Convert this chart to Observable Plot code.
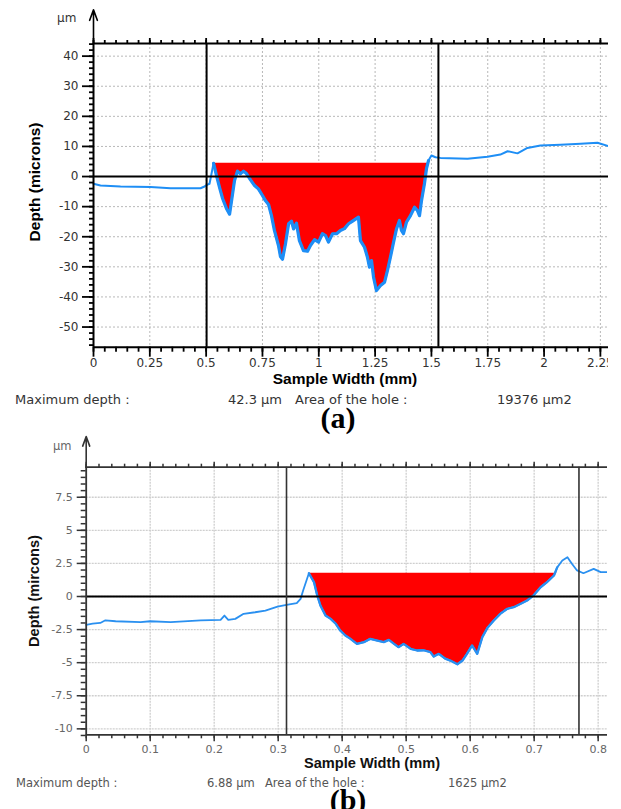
<!DOCTYPE html>
<html>
<head>
<meta charset="utf-8">
<script src="https://cdn.jsdelivr.net/npm/d3@7"></script>
<script src="https://cdn.jsdelivr.net/npm/@observablehq/plot@0.6"></script>
<style>
  body { margin: 0; background: #fff; }
  #page { position: relative; width: 621px; height: 809px; overflow: hidden; background: #fff; }
  .abs { position: absolute; white-space: nowrap; line-height: 1; }
</style>
</head>
<body>
<div id="page"></div>
<script>
// ---------- Panel (a) data ----------
const widthA = [0, 0.031, 0.120, 0.253, 0.342, 0.431, 0.475, 0.493, 0.506, 0.515, 0.524, 0.533, 0.546, 0.559, 0.573, 0.590, 0.604, 0.613, 0.626, 0.639, 0.652, 0.666, 0.679, 0.697, 0.715, 0.732, 0.750, 0.763, 0.777, 0.790, 0.803, 0.821, 0.830, 0.839, 0.852, 0.866, 0.879, 0.888, 0.901, 0.914, 0.932, 0.950, 0.963, 0.981, 0.999, 1.016, 1.030, 1.043, 1.061, 1.079, 1.096, 1.114, 1.132, 1.150, 1.176, 1.185, 1.203, 1.216, 1.225, 1.234, 1.243, 1.256, 1.274, 1.292, 1.305, 1.318, 1.332, 1.345, 1.358, 1.367, 1.376, 1.389, 1.407, 1.425, 1.438, 1.447, 1.456, 1.469, 1.478, 1.487, 1.500, 1.518, 1.540, 1.660, 1.749, 1.806, 1.838, 1.882, 1.926, 1.984, 2.073, 2.162, 2.237, 2.286];
const depthA = [-2.4, -3.0, -3.3, -3.5, -3.9, -3.9, -3.9, -3.3, -2.7, -2.4, 1.0, 4.4, 0.3, -3.5, -7.3, -10.6, -12.5, -8.0, -1.3, 1.8, 0.9, 1.8, 1.0, -1.1, -3.0, -4.1, -6.3, -8.0, -9.3, -13.0, -17.9, -22.9, -26.6, -27.5, -22.4, -15.7, -14.8, -17.4, -15.5, -21.3, -24.6, -24.8, -22.9, -21.0, -21.8, -19.0, -19.6, -21.8, -19.0, -19.0, -17.9, -17.3, -15.7, -14.8, -13.5, -21.3, -23.5, -26.8, -30.1, -27.9, -33.4, -37.9, -36.2, -35.1, -31.2, -26.8, -21.8, -17.4, -14.6, -17.9, -19.0, -15.2, -13.0, -10.2, -11.3, -13.0, -8.0, -2.4, 2.6, 5.3, 7.0, 6.4, 6.2, 5.9, 6.6, 7.3, 8.4, 7.7, 9.5, 10.3, 10.6, 10.9, 11.2, 10.1];
const xTicksA = [0, 0.25, 0.5, 0.75, 1, 1.25, 1.5, 1.75, 2, 2.25];
const yTicksA = [40, 30, 20, 10, 0, -10, -20, -30, -40, -50];
const cursorsA = [0.502, 1.531];
const holeRangeA = [0.533, 1.487];
const holeLevelA = 4.4;
const infoA = ["Maximum depth :", "42.3 µm", "Area of the hole :", "19376 µm2"];

// ---------- Panel (b) data ----------
const widthB = [0, 0.010, 0.022, 0.030, 0.046, 0.085, 0.100, 0.132, 0.179, 0.210, 0.216, 0.222, 0.233, 0.246, 0.264, 0.280, 0.299, 0.313, 0.329, 0.335, 0.339, 0.348, 0.356, 0.361, 0.366, 0.374, 0.382, 0.390, 0.397, 0.405, 0.413, 0.423, 0.434, 0.444, 0.455, 0.465, 0.473, 0.481, 0.488, 0.496, 0.507, 0.517, 0.527, 0.538, 0.543, 0.551, 0.561, 0.569, 0.580, 0.588, 0.595, 0.603, 0.611, 0.619, 0.627, 0.637, 0.647, 0.658, 0.668, 0.679, 0.689, 0.699, 0.710, 0.720, 0.731, 0.736, 0.744, 0.752, 0.759, 0.767, 0.777, 0.793, 0.804, 0.815];
const depthB = [-2.14, -2.05, -2.0, -1.8, -1.87, -1.94, -1.87, -1.94, -1.81, -1.76, -1.44, -1.76, -1.69, -1.31, -1.19, -1.06, -0.76, -0.63, -0.5, -0.18, 0.45, 1.76, 1.08, 0.08, -0.68, -1.44, -1.69, -2.06, -2.57, -2.95, -3.2, -3.58, -3.45, -3.2, -3.33, -3.45, -3.28, -3.58, -3.83, -3.58, -3.95, -4.08, -4.06, -4.21, -4.54, -4.33, -4.7, -4.84, -5.12, -4.84, -4.33, -3.7, -4.33, -3.07, -2.37, -1.81, -1.31, -0.93, -0.81, -0.55, -0.3, 0.08, 0.7, 1.08, 1.59, 2.2, 2.72, 2.97, 2.47, 1.97, 1.76, 2.09, 1.84, 1.84];
const xTicksB = [0, 0.1, 0.2, 0.3, 0.4, 0.5, 0.6, 0.7, 0.8];
const yTicksB = [7.5, 5, 2.5, 0, -2.5, -5, -7.5, -10];
const cursorsB = [0.313, 0.770];
const holeRangeB = [0.348, 0.736];
const holeLevelB = 1.76;
const infoB = ["Maximum depth :", "6.88 µm", "Area of the hole :", "1625 µm2"];

// ---------- drawing ----------
const page = document.getElementById("page");

function panel(c) {
  const data = c.widths.map((x, i) => ({x, y: c.depths[i]}));
  const hole = data.filter(d => d.x >= c.holeRange[0] && d.x <= c.holeRange[1]);
  const [y0, y1] = c.yDomain;
  const blank = () => "";
  const ax = c.axisColor;
  const svg = Plot.plot({
    width: c.width, height: c.height,
    marginLeft: c.ml, marginRight: 0, marginTop: c.mt, marginBottom: c.mb,
    x: {domain: c.xDomain, label: null},
    y: {domain: c.yDomain, label: null},
    style: {fontFamily: "'DejaVu Sans', sans-serif", background: "transparent"},
    marks: [
      Plot.gridX(c.xTicks.filter(d => d > 0), {stroke: c.gridColor, strokeOpacity: 1, strokeDasharray: c.dash, strokeWidth: c.gridWidth}),
      Plot.gridY(c.yTicks, {stroke: c.gridColor, strokeOpacity: 1, strokeDasharray: c.dash, strokeWidth: c.gridWidth}),
      Plot.areaY(hole, {x: "x", y1: d => Math.min(d.y, c.holeLevel), y2: () => c.holeLevel, fill: "#ff0000"}),
      Plot.line(data, {x: "x", y: "y", stroke: c.lineColor, strokeWidth: c.lw}),
      Plot.line(hole, {x: "x", y: "y", stroke: c.lineColor, strokeWidth: c.lwHole}),
      Plot.ruleY([0], {stroke: "#000", strokeWidth: 2}),
      Plot.ruleX(c.cursors, {stroke: ax, strokeWidth: c.cursorWidth}),
      Plot.ruleY([y1], {stroke: ax, strokeWidth: c.frameWidth}),
      Plot.ruleY([y0], {stroke: ax, strokeWidth: c.frameWidth}),
      Plot.ruleX([c.xDomain[0]], {stroke: ax, strokeWidth: c.frameWidth}),
      Plot.axisX(c.xMinor, {anchor: "top", tickSize: c.t.topMinor, tickFormat: blank, color: ax, strokeWidth: c.tickWidth}),
      Plot.axisX(c.xTicks, {anchor: "top", tickSize: c.t.topMajor, tickFormat: blank, color: ax, strokeWidth: c.tickWidth}),
      Plot.axisX(c.xMinor, {anchor: "bottom", tickSize: c.t.bottomMinor, tickFormat: blank, color: ax, strokeWidth: c.tickWidth}),
      Plot.axisX(c.xTicks, {anchor: "bottom", tickSize: c.t.bottomMajor, tickFormat: blank, color: ax, strokeWidth: c.tickWidth}),
      Plot.axisX(c.xTicks, {anchor: "bottom", tickSize: 0, tickPadding: c.t.xPad, tickFormat: d => String(d), color: c.labelColor, fontSize: c.fontSize}),
      Plot.axisY(c.yMinor, {anchor: "left", tickSize: c.t.leftMinor, tickFormat: blank, color: ax, strokeWidth: c.tickWidth}),
      Plot.axisY(c.yTicks, {anchor: "left", tickSize: c.t.leftMajor, tickFormat: blank, color: ax, strokeWidth: c.tickWidth}),
      Plot.axisY(c.yTicks, {anchor: "left", tickSize: 0, tickPadding: c.t.yPad, tickFormat: d => String(d), color: c.labelColor, fontSize: c.fontSize}),
      Plot.arrow([c.arrowRise], {x1: () => c.xDomain[0], x2: () => c.xDomain[0], y1: () => y1, y2: d => y1 + d, stroke: ax, strokeWidth: 1.6, headLength: c.headLength, headAngle: 40})
    ]
  });
  svg.style.position = "absolute";
  svg.style.left = "0px";
  svg.style.top = c.top + "px";
  page.appendChild(svg);
}

function addText(txt, css) {
  const d = document.createElement("div");
  d.className = "abs";
  d.textContent = txt;
  Object.assign(d.style, css);
  page.appendChild(d);
}

panel({
  widths: widthA, depths: depthA, xTicks: xTicksA, yTicks: yTicksA,
  xMinor: d3.range(0, 2.29, 0.05), yMinor: d3.range(-56, 45, 2),
  cursors: cursorsA, holeRange: holeRangeA, holeLevel: holeLevelA,
  xDomain: [0, 2.286], yDomain: [-56.7, 44.2],
  width: 608, height: 390, ml: 93, mt: 43, mb: 43.3, top: 0,
  gridColor: "#b8b8b8", dash: "2,2", gridWidth: 1,
  lineColor: "#1e8ef5", lw: 2, lwHole: 3.2,
  axisColor: "#000", cursorWidth: 2, frameWidth: 2, tickWidth: 1.8,
  labelColor: "#333", fontSize: 12,
  t: {topMinor: 4, topMajor: 6, bottomMinor: 5, bottomMajor: 10, leftMinor: 4, leftMajor: 11, xPad: 11, yPad: 15},
  arrowRise: 11.2, headLength: 16
});

panel({
  widths: widthB, depths: depthB, xTicks: xTicksB, yTicks: yTicksB,
  xMinor: d3.range(0, 0.815, 0.02), yMinor: d3.range(-10.5, 9.8, 0.5),
  cursors: cursorsB, holeRange: holeRangeB, holeLevel: holeLevelB,
  xDomain: [0, 0.8146], yDomain: [-10.45, 9.77],
  width: 607, height: 345, ml: 85.7, mt: 36.7, mb: 40.7, top: 430,
  gridColor: "#cfcfcf", dash: "2,1", gridWidth: 1.3,
  lineColor: "#2a90f0", lw: 1.8, lwHole: 2.3,
  axisColor: "#333", cursorWidth: 1.6, frameWidth: 1.8, tickWidth: 1.5,
  labelColor: "#666", fontSize: 11,
  t: {topMinor: 4, topMajor: 6, bottomMinor: 4, bottomMajor: 7, leftMinor: 5, leftMajor: 9, xPad: 10.5, yPad: 13.5},
  arrowRise: 2.32, headLength: 15
});

// Panel (a) texts
const fA = "13px 'DejaVu Sans', sans-serif";
addText("µm", {left: "57px", top: "11px", font: "12px 'DejaVu Sans', sans-serif", color: "#333"});
addText("Depth (microns)", {left: "35px", top: "182px", transform: "translate(-50%,-50%) rotate(-90deg)", font: "bold 15.5px 'Liberation Sans', sans-serif", color: "#000"});
addText("Sample Width (mm)", {left: "345px", top: "379px", transform: "translate(-50%,-50%)", font: "bold 15.5px 'Liberation Sans', sans-serif", color: "#000"});
addText(infoA[0], {left: "15px", top: "392px", font: fA, color: "#333"});
addText(infoA[1], {left: "228px", top: "392px", font: fA, color: "#333"});
addText(infoA[2], {left: "295px", top: "392px", font: fA, color: "#333"});
addText(infoA[3], {left: "497px", top: "392px", font: fA, color: "#333"});
addText("(a)", {left: "338px", top: "406px", transform: "translateX(-50%)", font: "bold 30px 'Liberation Serif', serif", lineHeight: "0.8", color: "#000"});

// Panel (b) texts
const fB = "11.5px 'DejaVu Sans', sans-serif";
addText("µm", {left: "53px", top: "438.5px", font: "11.5px 'DejaVu Sans', sans-serif", color: "#666"});
addText("Depth (mircons)", {left: "34px", top: "591px", transform: "translate(-50%,-50%) rotate(-90deg)", font: "bold 14.6px 'Liberation Sans', sans-serif", color: "#111"});
addText("Sample Width (mm)", {left: "372px", top: "763px", transform: "translate(-50%,-50%)", font: "bold 14.6px 'Liberation Sans', sans-serif", color: "#111"});
addText(infoB[0], {left: "16px", top: "776.2px", font: fB, color: "#555"});
addText(infoB[1], {left: "207px", top: "776.2px", font: fB, color: "#555"});
addText(infoB[2], {left: "265px", top: "776.2px", font: fB, color: "#555"});
addText(infoB[3], {left: "448px", top: "776.2px", font: fB, color: "#555"});
addText("(b)", {left: "348px", top: "788px", transform: "translateX(-50%)", font: "bold 30px 'Liberation Serif', serif", lineHeight: "0.8", color: "#000"});
</script>
</body>
</html>
